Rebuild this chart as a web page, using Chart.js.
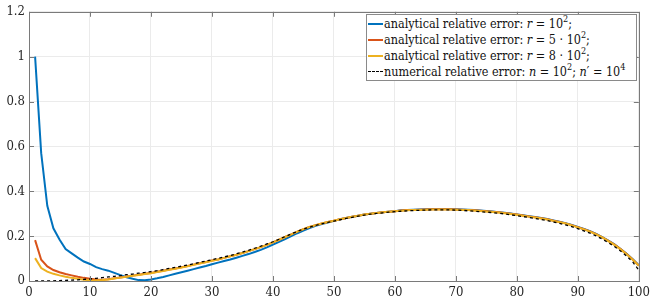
<!DOCTYPE html>
<html>
<head>
<meta charset="utf-8">
<script src="https://cdn.jsdelivr.net/npm/chart.js@4/dist/chart.umd.min.js"></script>
<style>
  html, body { margin: 0; padding: 0; background: #fff; }
  #wrap { position: relative; width: 654px; height: 305px; }
  #legend {
    position: absolute; left: 366px; top: 14px; width: 271px; height: 67px;
    border: 1px solid #8a8a8a; background: #fff; box-sizing: border-box;
    font-family: "DejaVu Serif Condensed", "DejaVu Serif", serif; font-stretch: condensed;
    font-size: 12.5px; color: #111;
    padding-top: 1px;
  }
  .row { height: 16px; line-height: 16px; white-space: nowrap; }
  .sw { display: inline-block; width: 15px; height: 0; vertical-align: middle; margin: 0 1px 0 1px; position: relative; top: -1px; }
  sup { font-size: 9px; line-height: 0; position: relative; top: -1px; }
</style>
</head>
<body>
<div id="wrap">
  <canvas id="c" width="654" height="305"></canvas>
  <div id="legend"></div>
</div>
<script>
// ---- data ----
const xs = [1,2,3,4,5,6,7,8,9,10,11,12,13,14,15,16,17,18,19,20,21,22,23,24,25,26,27,28,29,30,31,32,33,34,35,36,37,38,39,40,41,42,43,44,45,46,47,48,49,50,51,52,53,54,55,56,57,58,59,60,61,62,63,64,65,66,67,68,69,70,71,72,73,74,75,76,77,78,79,80,81,82,83,84,85,86,87,88,89,90,91,92,93,94,95,96,97,98,99,100];

const analyticR100 = [
1.000,0.570,0.335,0.235,0.185,0.142,0.123,0.104,0.087,0.076,
0.062,0.053,0.046,0.036,0.026,0.017,0.010,0.004,0.003,0.007,
0.012,0.018,0.025,0.032,0.039,0.046,0.053,0.060,0.067,0.075,
0.082,0.089,0.096,0.104,0.112,0.120,0.129,0.139,0.150,0.162,
0.174,0.187,0.200,0.213,0.225,0.236,0.246,0.254,0.261,0.268,
0.275,0.281,0.286,0.291,0.296,0.300,0.303,0.306,0.309,0.311,
0.315,0.317,0.318,0.319,0.320,0.321,0.321,0.321,0.321,0.320,
0.319,0.318,0.316,0.314,0.312,0.310,0.307,0.304,0.301,0.297,
0.293,0.289,0.285,0.281,0.276,0.270,0.264,0.258,0.250,0.241,
0.232,0.222,0.210,0.196,0.180,0.163,0.143,0.121,0.097,0.070];

const analyticR500 = [
0.182,0.095,0.065,0.049,0.039,0.031,0.025,0.019,0.014,0.010,
0.007,0.006,0.008,0.012,0.016,0.020,0.024,0.028,0.032,0.036,
0.041,0.046,0.051,0.056,0.061,0.067,0.073,0.079,0.085,0.091,
0.096,0.103,0.110,0.117,0.125,0.133,0.142,0.151,0.161,0.172,
0.184,0.196,0.208,0.220,0.231,0.241,0.249,0.256,0.263,0.269,
0.275,0.281,0.286,0.291,0.296,0.300,0.303,0.306,0.309,0.311,
0.314,0.316,0.317,0.318,0.319,0.320,0.320,0.320,0.320,0.319,
0.318,0.317,0.315,0.313,0.311,0.309,0.306,0.303,0.300,0.296,
0.292,0.288,0.284,0.280,0.275,0.269,0.263,0.257,0.249,0.240,
0.231,0.221,0.209,0.195,0.179,0.162,0.142,0.120,0.096,0.069];

const analyticR800 = [
0.102,0.058,0.042,0.032,0.025,0.019,0.014,0.010,0.006,0.003,
0.002,0.004,0.007,0.011,0.015,0.019,0.023,0.027,0.031,0.035,
0.040,0.045,0.050,0.055,0.060,0.066,0.072,0.078,0.084,0.090,
0.096,0.103,0.110,0.117,0.125,0.133,0.142,0.151,0.161,0.172,
0.184,0.196,0.208,0.220,0.231,0.241,0.249,0.256,0.263,0.269,
0.275,0.281,0.286,0.291,0.296,0.300,0.303,0.306,0.309,0.311,
0.313,0.315,0.316,0.317,0.318,0.319,0.319,0.319,0.319,0.318,
0.317,0.316,0.314,0.312,0.310,0.308,0.305,0.302,0.299,0.295,
0.291,0.287,0.283,0.279,0.274,0.268,0.262,0.256,0.248,0.239,
0.230,0.220,0.208,0.194,0.178,0.161,0.141,0.119,0.095,0.068];

const numerical = [
0.000,0.000,0.001,0.001,0.002,0.003,0.004,0.005,0.007,0.009,
0.012,0.015,0.018,0.021,0.024,0.028,0.031,0.035,0.038,0.042,
0.046,0.051,0.056,0.061,0.066,0.071,0.077,0.083,0.089,0.095,
0.101,0.107,0.114,0.121,0.129,0.137,0.146,0.155,0.165,0.175,
0.186,0.198,0.210,0.221,0.231,0.240,0.248,0.255,0.261,0.267,
0.273,0.279,0.284,0.289,0.294,0.298,0.301,0.304,0.307,0.309,
0.311,0.313,0.314,0.315,0.316,0.317,0.317,0.317,0.317,0.316,
0.315,0.313,0.311,0.309,0.307,0.305,0.302,0.299,0.295,0.291,
0.287,0.283,0.279,0.274,0.269,0.263,0.257,0.250,0.242,0.233,
0.223,0.213,0.201,0.187,0.171,0.154,0.134,0.111,0.085,0.048];

const xTicks = [0,10,20,30,40,50,60,70,80,90,100];
const yTicks = [0,0.2,0.4,0.6,0.8,1,1.2];
const yTickLabels = ['0','0.2','0.4','0.6','0.8','1','1.2'];

const legendLabels = [
  'analytical relative error: <i>r</i> = 10<sup>2</sup>;',
  'analytical relative error: <i>r</i> = 5 · 10<sup>2</sup>;',
  'analytical relative error: <i>r</i> = 8 · 10<sup>2</sup>;',
  'numerical relative error: <i>n</i> = 10<sup>2</sup>; <i>n</i>′ = 10<sup>4</sup>'
];
const colors = ['#0072BD', '#D95319', '#EDB120', '#000000'];

// ---- chart ----
const pts = arr => arr.map((v, i) => ({ x: xs[i], y: v }));
const FONT = '"DejaVu Serif Condensed", "DejaVu Serif", serif';
Chart.defaults.font.family = FONT;

const boxPlugin = {
  id: 'boxTicks',
  afterDraw(chart) {
    const { ctx, chartArea: a, scales } = chart;
    ctx.save();
    ctx.strokeStyle = '#7a7a7a';
    ctx.lineWidth = 1;
    ctx.strokeRect(Math.round(a.left) + 0.5, Math.round(a.top) + 0.5,
                   Math.round(a.right - a.left), Math.round(a.bottom - a.top));
    ctx.beginPath();
    const L = 5;
    xTicks.forEach(t => {
      const px = Math.round(scales.x.getPixelForValue(t)) + 0.5;
      ctx.moveTo(px, a.bottom); ctx.lineTo(px, a.bottom - L);
      ctx.moveTo(px, a.top); ctx.lineTo(px, a.top + L);
    });
    yTicks.forEach(t => {
      const py = Math.round(scales.y.getPixelForValue(t)) + 0.5;
      ctx.moveTo(a.left, py); ctx.lineTo(a.left + L, py);
      ctx.moveTo(a.right, py); ctx.lineTo(a.right - L, py);
    });
    ctx.stroke();
    ctx.restore();
  }
};

new Chart(document.getElementById('c'), {
  type: 'line',
  data: {
    datasets: [
      { data: pts(analyticR100), borderColor: colors[0], borderWidth: 2, order: 3 },
      { data: pts(analyticR500), borderColor: colors[1], borderWidth: 2, order: 2 },
      { data: pts(analyticR800), borderColor: colors[2], borderWidth: 2, order: 1 },
      { data: pts(numerical), borderColor: colors[3], borderWidth: 1.3, borderDash: [3, 3], order: 0 }
    ]
  },
  options: {
    responsive: false,
    animation: false,
    events: [],
    elements: { point: { radius: 0 }, line: { tension: 0 } },
    layout: { padding: { top: 10, right: 14, left: 0, bottom: 0 } },
    plugins: { legend: { display: false }, tooltip: { enabled: false } },
    scales: {
      x: {
        type: 'linear', min: 0, max: 100,
        afterBuildTicks: s => { s.ticks = xTicks.map(v => ({ value: v })); },
        ticks: { color: '#262626', font: { family: FONT, size: 13 }, padding: 4, maxRotation: 0 },
        grid: { color: '#ebebeb', drawTicks: false },
        border: { display: false },
        afterFit: s => { s.height = 24; }
      },
      y: {
        min: 0, max: 1.2,
        afterBuildTicks: s => { s.ticks = yTicks.map(v => ({ value: v })); },
        ticks: { color: '#262626', font: { family: FONT, size: 13 }, padding: 4,
                 callback: (v) => yTickLabels[yTicks.findIndex(t => Math.abs(t - v) < 1e-9)] },
        grid: { color: '#ebebeb', drawTicks: false },
        border: { display: false },
        afterFit: s => { s.width = 29; }
      }
    }
  },
  plugins: [boxPlugin]
});

// ---- legend (HTML text) ----
const lg = document.getElementById('legend');
legendLabels.forEach((lab, i) => {
  const row = document.createElement('div');
  row.className = 'row';
  const sw = document.createElement('span');
  sw.className = 'sw';
  sw.style.borderTop = i === 3 ? '1.5px dashed #000' : '2px solid ' + colors[i];
  row.appendChild(sw);
  const tx = document.createElement('span');
  tx.innerHTML = lab;
  row.appendChild(tx);
  lg.appendChild(row);
});
</script>
</body>
</html>
